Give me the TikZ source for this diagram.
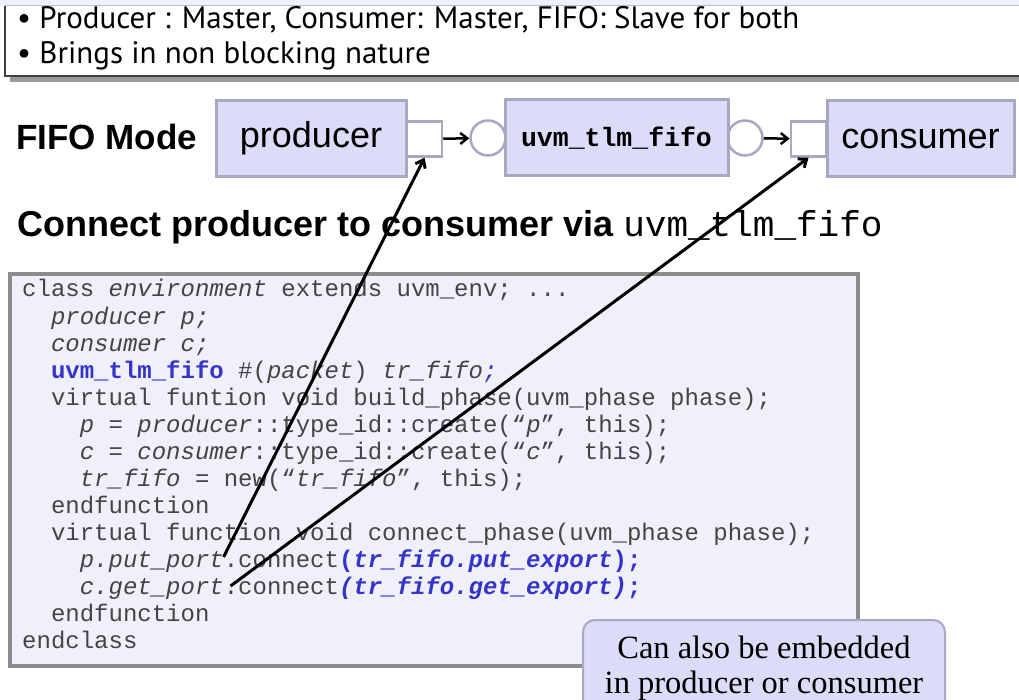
\documentclass[tikz,border=0pt]{standalone}
\usepackage{fontspec}
\setmainfont{Liberation Sans}
\newfontfamily\bulletfont{PT Sans}
\newfontfamily\codefont{Liberation Mono}
\newfontfamily\notefont{Liberation Serif}
\usetikzlibrary{arrows.meta, positioning, calc}
\definecolor{boxfill}{HTML}{DCDCF8}
\definecolor{boxline}{HTML}{A8A8C0}
\definecolor{codebg}{HTML}{F0F0FA}
\definecolor{codeframe}{HTML}{8C8C8C}
\definecolor{codeblue}{HTML}{3434C8}
\definecolor{codegray}{HTML}{444444}
\definecolor{topband}{HTML}{EEF2FC}
\newcommand{\ci}[1]{\textit{#1}}
\newcommand{\cb}[1]{\textcolor{codeblue}{\bfseries#1}}

\begin{document}
\begin{tikzpicture}[x=1pt, y=-1pt, >={Straight Barb[length=7pt, width=11pt]},
    block/.style={rectangle, draw=boxline, line width=3pt, fill=boxfill,
      minimum width=#1, minimum height=76pt, inner sep=0pt,
      font=\fontsize{36}{40}\selectfont},
    port/.style={rectangle, draw=boxline, line width=2.5pt, fill=white,
      minimum size=35pt, inner sep=0pt},
    export/.style={circle, draw=boxline, line width=2.5pt, fill=white,
      minimum size=35pt, inner sep=0pt},
    link/.style={->, line width=2.5pt, black},
    pointer/.style={->, line width=3pt, black},
    bullet/.style={anchor=base west, inner sep=0pt,
      font=\bulletfont\fontsize{31}{34}\selectfont},
    codeln/.style={anchor=base west, inner sep=0pt, text=codegray,
      font=\codefont\fontsize{24}{27}\selectfont},
    note/.style={rectangle, rounded corners=12pt, draw=boxline, line width=2pt,
      fill=boxfill, minimum width=362pt, minimum height=96pt, align=center,
      font=\notefont\fontsize{32.5}{35}\selectfont},
  ]
    \useasboundingbox (0,0) rectangle (1019,700);
    \clip (0,0) rectangle (1019,700);

    % bullet box at the top
    \fill[topband] (0,0) rectangle (1019,6);
    \fill[white] (5,6) rectangle (1019,76);
    \fill[black!40] (10,77) rectangle (1019,82);
    \draw[black!25, line width=1pt] (5,6) -- (1019,6);
    \draw[black!75, line width=1.2pt] (5,6) -- (5,76) -- (1019,76);
    \node[bullet] (b1) at (17,29) {• Producer : Master, Consumer: Master, FIFO: Slave for both};
    \node[bullet] (b2) at (17,64) {• Brings in non blocking nature};

    % FIFO mode
    \node[anchor=west, inner sep=0pt, font=\bfseries\fontsize{35}{40}\selectfont] (mode) at (16,137) {FIFO Mode};
    \node[port] (pport) at (424.5,139) {};
    \node[export] (fin) at (488,138) {};
    \node[export] (fout) at (745,138) {};
    \node[port] (cport) at (808.5,139) {};
    \node[block=190pt] (prod) at (311,138.5) {producer};
    \node[block=223pt, font=\codefont\bfseries\fontsize{26.5}{30}\selectfont] (fifo) at (616.5,138) {uvm\_tlm\_fifo};
    \node[block=187pt] (cons) at (920.5,138.5) {consumer};
    \draw[link] (pport) -- (fin);
    \draw[link] (fout) -- (cport);

    \node[anchor=base west, inner sep=0pt, font=\bfseries\fontsize{36}{40}\selectfont] (head) at (17,237)
      {Connect producer to consumer via {\codefont\mdseries uvm\_tlm\_fifo}};

    % code
    \filldraw[fill=codebg, draw=codeframe, line width=4pt] (10,274) rectangle (858,666);
    \node[codeln] (l1) at (22,297) {class \ci{environment} extends uvm\_env; ...};
    \node[codeln] (l2) at (50.8,324) {\ci{producer p;}};
    \node[codeln] (l3) at (50.8,351) {\ci{consumer c;}};
    \node[codeln] (l4) at (50.8,378) {\cb{uvm\_tlm\_fifo} \#(\ci{packet}) \ci{tr\_fifo}\textcolor{codeblue}{\ci{;}}};
    \node[codeln] (l5) at (50.8,405) {virtual funtion void build\_phase(uvm\_phase phase);};
    \node[codeln] (l6) at (79.6,432) {\ci{p} = \ci{producer}::type\_id::create(“\ci{p}”, this);};
    \node[codeln] (l7) at (79.6,459) {\ci{c} = \ci{consumer}::type\_id::create(“\ci{c}”, this);};
    \node[codeln] (l8) at (79.6,486) {\ci{tr\_fifo} = new(“\ci{tr\_fifo}”, this);};
    \node[codeln] (l9) at (50.8,513) {endfunction};
    \node[codeln] (l10) at (50.8,540) {virtual function void connect\_phase(uvm\_phase phase);};
    \node[codeln] (l11) at (79.6,567) {\ci{p.put\_port}.connect\cb{(\ci{tr\_fifo.put\_export});}};
    \node[codeln] (l12) at (79.6,594) {\ci{c.get\_port}.connect\cb{\ci{(tr\_fifo.get\_export)};}};
    \node[codeln] (l13) at (50.8,621) {endfunction};
    \node[codeln] (l14) at (22,648) {endclass};

    \node[note] (note) at (764,668) {Can also be embedded\\in producer or consumer};

    % port pointers
    \coordinate (putend) at ($(l11.base west)+(144,-10)$);
    \coordinate (getend) at ($(l12.base west)+(151,-8)$);
    \draw[pointer] (putend) -- (pport.south);
    \draw[pointer] (getend) -- (cport.south);
  \end{tikzpicture}
\end{document}
